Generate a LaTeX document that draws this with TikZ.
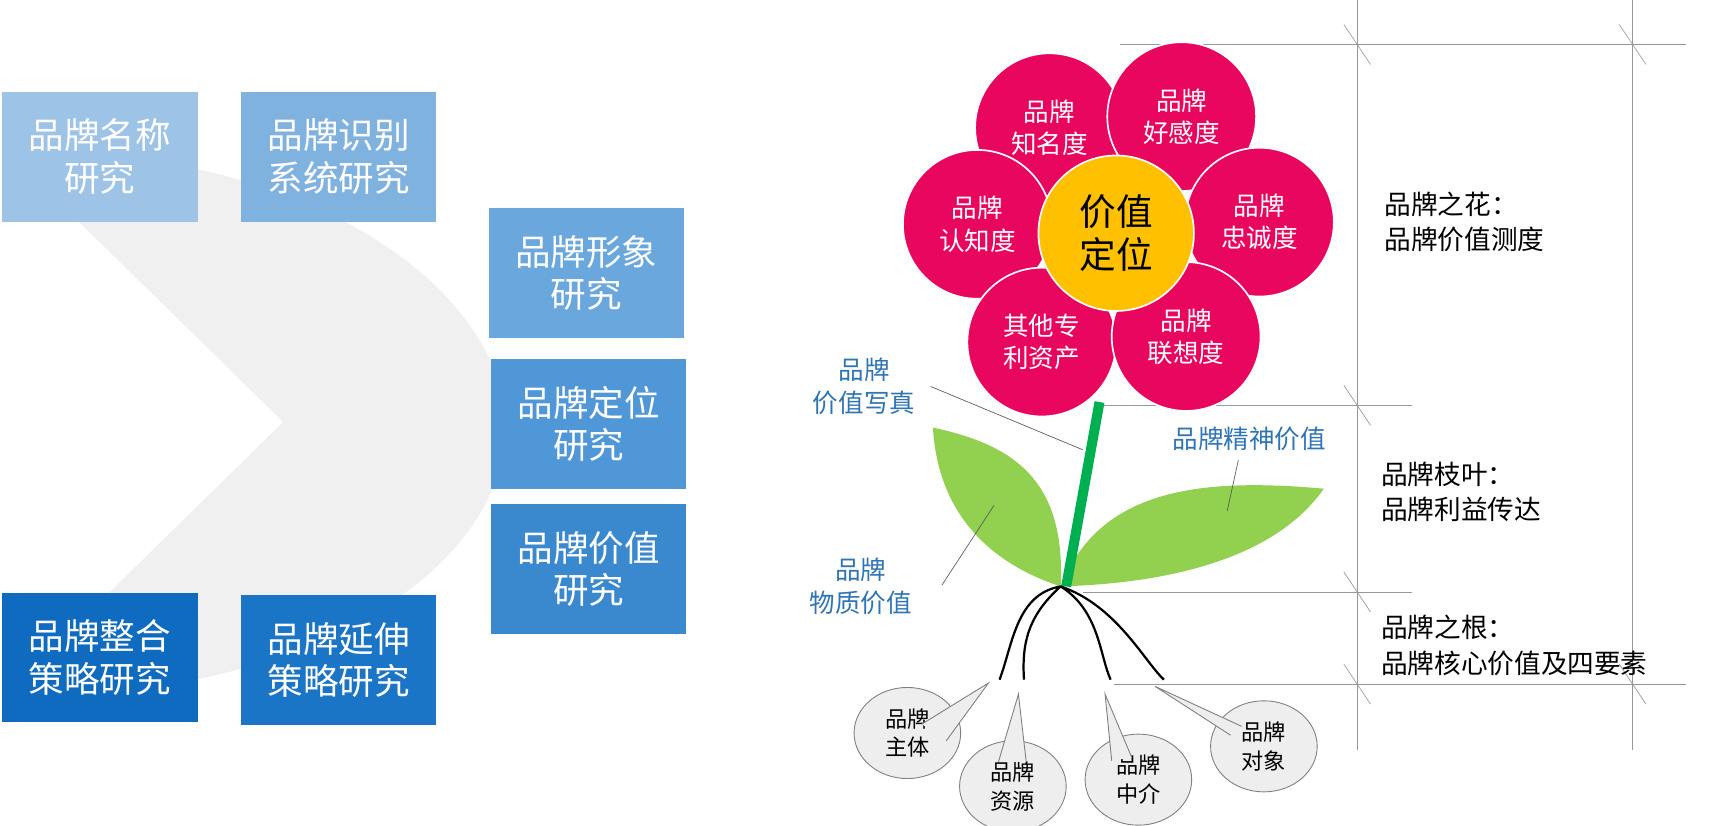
\documentclass[tikz,border=0pt]{standalone}
\usepackage{fontspec}
\setmainfont{Noto Sans CJK SC}
\usetikzlibrary{positioning,shapes.geometric}
\definecolor{petal}{HTML}{E8065E}
\definecolor{core}{HTML}{FFC000}
\definecolor{leaf}{HTML}{92D050}
\definecolor{stem}{HTML}{00B050}
\definecolor{label}{HTML}{2E75B6}
\definecolor{bub}{HTML}{EEEEEE}
\tikzset{
  box/.style={minimum width=176pt, minimum height=117pt, text=white, align=center,
    font=\fontsize{32}{38}\selectfont, inner sep=0pt},
  petalnode/.style={circle, fill=petal, draw=white, line width=1.5pt, minimum size=134pt,
    text=white, align=center, font=\fontsize{23}{29}\selectfont, inner sep=0pt},
  note/.style={align=left, font=\fontsize{24}{32}\selectfont, anchor=west},
  bluenote/.style={text=label, align=center, font=\fontsize{23}{30}\selectfont},
  bubble/.style={ellipse, fill=bub, draw=gray, line width=0.8pt, minimum width=96pt,
    minimum height=82pt, align=center, font=\fontsize{20}{26}\selectfont, inner sep=0pt},
  guide/.style={draw=gray!80, line width=0.6pt}
}
\begin{document}
\begin{tikzpicture}[x=1pt,y=-1pt]
\useasboundingbox (0,0) rectangle (1555,743);
% background chevron
\fill[gray!12] (10,140) .. controls (250,125) and (455,250) .. (455,385)
  .. controls (455,520) and (250,640) .. (10,620) -- (255,380) -- cycle;
% research boxes
\node[box, fill={rgb,255:red,157;green,195;blue,230}] (name) at (90,141) {品牌名称\\研究};
\node[box, fill={rgb,255:red,127;green,178;blue,222}] (ident) at (305,141) {品牌识别\\系统研究};
\node[box, fill={rgb,255:red,105;green,167;blue,220}] (image) at (528,246) {品牌形象\\研究};
\node[box, fill={rgb,255:red,79;green,151;blue,214}] (posit) at (530,382) {品牌定位\\研究};
\node[box, fill={rgb,255:red,58;green,137;blue,207}] (value) at (530,512) {品牌价值\\研究};
\node[box, fill={rgb,255:red,14;green,107;blue,191}] (integ) at (90,592) {品牌整合\\策略研究};
\node[box, fill={rgb,255:red,26;green,117;blue,199}] (exten) at (305,594) {品牌延伸\\策略研究};
% guides
\draw[guide] (1222,0) -- (1222,675) (1470,0) -- (1470,675);
\draw[guide] (1008,40) -- (1518,40) (990,365) -- (1271,365)
  (975,533) -- (1271,533) (1003,616) -- (1518,616);
\foreach \yy in {40,365,533,616} {
  \draw[guide] (1210,\yy-18) -- (1234,\yy+18);
}
\foreach \yy in {40,616} {
  \draw[guide] (1458,\yy-18) -- (1482,\yy+18);
}
% leaves and stem
\fill[leaf] (840,385) .. controls (910,400) and (960,430) .. (955,528)
  .. controls (900,510) and (845,470) .. (840,385);
\fill[leaf] (955,528) .. controls (990,440) and (1080,430) .. (1192,440)
  .. controls (1150,500) and (1060,525) .. (955,528);
\draw[stem, line width=9pt] (990,362) -- (960,528);
% roots
\draw[line width=2pt] (955,528) .. controls (915,535) and (912,580) .. (900,612)
  (955,528) .. controls (925,555) and (920,580) .. (922,612)
  (955,528) .. controls (990,550) and (990,590) .. (1000,612)
  (955,528) .. controls (1005,545) and (1030,595) .. (1048,612);
% flower
\node[petalnode] (known) at (945,115) {品牌\\知名度};
\node[petalnode] (fond) at (1064,105) {品牌\\好感度};
\node[petalnode] (aware) at (880,202) {品牌\\认知度};
\node[petalnode] (loyal) at (1134,200) {品牌\\忠诚度};
\node[petalnode] (other) at (938,308) {其他专\\利资产};
\node[petalnode] (assoc) at (1068,303) {品牌\\联想度};
\node[circle, fill=core, draw=white, line width=1.5pt, minimum size=140pt, inner sep=0pt,
  align=center, font=\fontsize{33}{39}\selectfont] (core) at (1005,210) {价值\\定位};
% blue labels
\node[bluenote] (photo) at (778,348) {品牌\\价值写真};
\node[bluenote] (spirit) at (1125,395) {品牌精神价值};
\node[bluenote] (matter) at (775,528) {品牌\\物质价值};
\coordinate (photoend) at (975,405);
\coordinate (spiritend) at (1105,460);
\coordinate (matterend) at (895,455);
\draw[gray!70!black, line width=0.6pt] (838,348) -- (photoend)
  (spirit.south) ++(-10,5) -- (spiritend) (848,527) -- (matterend);
% right notes
\node[note] (flower) at (1243,200) {品牌之花：\\品牌价值测度};
\node[note] (branch) at (1240,443) {品牌枝叶：\\品牌利益传达};
\node[note] (root) at (1240,581) {品牌之根：\\品牌核心价值及四要素};
% bubbles
\coordinate (t1) at (890,615);
\coordinate (t2) at (917,625);
\coordinate (t3) at (995,625);
\coordinate (t4) at (1040,618);
\node[bubble] (subj) at (817,660) {品牌\\主体};
\node[bubble] (res) at (912,708) {品牌\\资源};
\node[bubble] (med) at (1025,702) {品牌\\中介};
\node[bubble] (obj) at (1138,672) {品牌\\对象};
\fill[bub] (830,652) -- (t1) -- (852,667) -- cycle;
\fill[bub] (899,686) -- (t2) -- (924,686) -- cycle;
\fill[bub] (1001,685) -- (t3) -- (1019,682) -- cycle;
\fill[bub] (1108,662) -- (t4) -- (1118,654) -- cycle;
\draw[gray, line width=0.8pt] (830,652) -- (t1) -- (852,667)
  (899,686) -- (t2) -- (924,686) (1001,685) -- (t3) -- (1019,682)
  (1108,662) -- (t4) -- (1118,654);
\end{tikzpicture}
\end{document}
